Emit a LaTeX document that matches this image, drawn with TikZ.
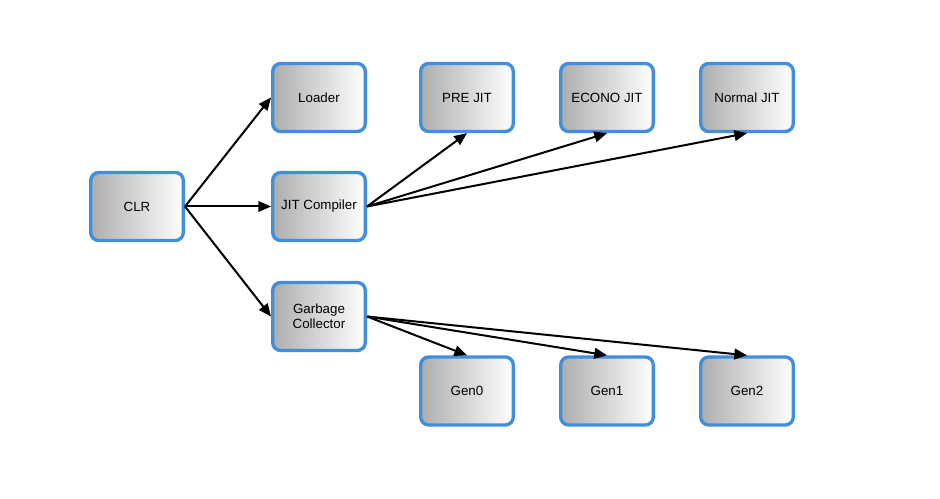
\documentclass[tikz,border=0pt]{standalone}
\usepackage{fontspec}
\setmainfont{Liberation Sans}
\usetikzlibrary{arrows.meta}
\definecolor{boxblue}{RGB}{64,142,220}
\begin{document}
\begin{tikzpicture}[x=0.75pt,y=-0.75pt,font=\fontsize{10}{11.5}\selectfont,>={Triangle[length=9.5pt,width=8pt]},
box/.style={draw=boxblue,line width=2.5pt,rounded corners=6pt,left color=black!32,right color=white,text=black,minimum width=69.5pt,minimum height=51pt,align=center,inner sep=1pt},
arr/.style={->,line width=1.5pt}]
\useasboundingbox (0,0) rectangle (940,499);
\node[box] (clr) at (137,206.5) {CLR};
\node[box] (loader) at (319,97.5) {Loader};
\node[box] (jit) at (319,206.5) {JIT Compiler};
\node[box] (gc) at (319,316.5) {Garbage\\Collector};
\node[box] (pre) at (467,97.5) {PRE JIT};
\node[box] (econo) at (607,97.5) {ECONO JIT};
\node[box] (normal) at (747,97.5) {Normal JIT};
\node[box] (gen0) at (467,391) {Gen0};
\node[box] (gen1) at (607,391) {Gen1};
\node[box] (gen2) at (747,391) {Gen2};
\draw[arr] (clr.east)--(loader.west); \draw[arr] (clr.east)--(jit.west); \draw[arr] (clr.east)--(gc.west);
\draw[arr] (jit.east)--(pre.south); \draw[arr] (jit.east)--(econo.south); \draw[arr] (jit.east)--(normal.south);
\draw[arr] (gc.east)--(gen0.north); \draw[arr] (gc.east)--(gen1.north); \draw[arr] (gc.east)--(gen2.north);
\end{tikzpicture}
\end{document}
